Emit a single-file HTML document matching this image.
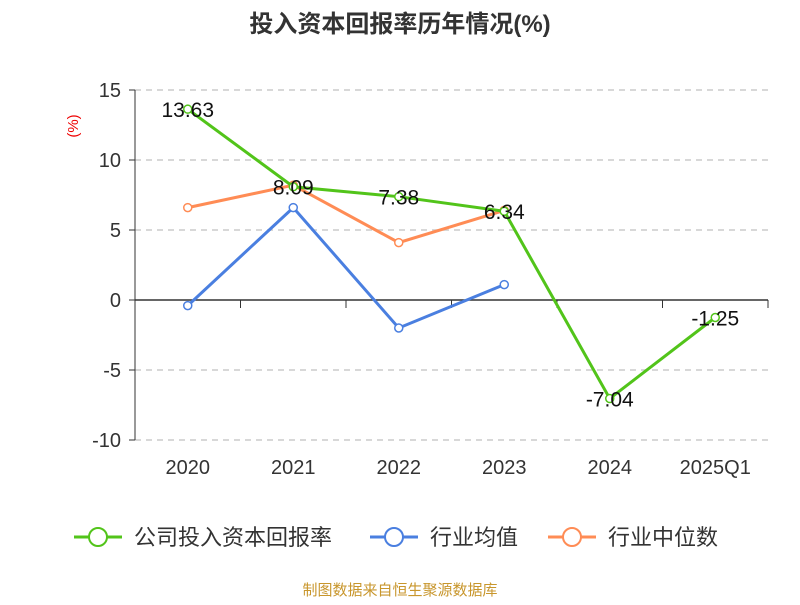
<!DOCTYPE html>
<html><head><meta charset="utf-8"><style>
body{margin:0;background:#fff;}
svg text{font-family:"Liberation Sans","Noto Sans CJK SC",sans-serif;}
</style></head><body>
<svg width="800" height="600" viewBox="0 0 800 600" xmlns="http://www.w3.org/2000/svg">
<text x="400" y="32" text-anchor="middle" font-size="24" font-weight="bold" fill="#333">投入资本回报率历年情况(%)</text>
<text transform="translate(78,126) rotate(-90)" text-anchor="middle" font-size="15" fill="#e00">(%)</text>
<g id="grid"></g><g id="axes"></g><g id="series"></g>
<g>
<g><line x1="74" y1="537" x2="122" y2="537" stroke="#52c41a" stroke-width="3"/><circle cx="98" cy="537" r="9" fill="#fff" stroke="#52c41a" stroke-width="2"/><text x="134" y="545" font-size="22" fill="#333">公司投入资本回报率</text></g>
<g><line x1="370" y1="537" x2="418" y2="537" stroke="#4a7fe0" stroke-width="3"/><circle cx="394" cy="537" r="9" fill="#fff" stroke="#4a7fe0" stroke-width="2"/><text x="430" y="545" font-size="22" fill="#333">行业均值</text></g>
<g><line x1="548" y1="537" x2="596" y2="537" stroke="#ff8c55" stroke-width="3"/><circle cx="572" cy="537" r="9" fill="#fff" stroke="#ff8c55" stroke-width="2"/><text x="608" y="545" font-size="22" fill="#333">行业中位数</text></g>
</g>
<text x="400" y="595" text-anchor="middle" font-size="15" fill="#c8962c">制图数据来自恒生聚源数据库</text>
</svg>
<script>
const categories=["2020","2021","2022","2023","2024","2025Q1"];
const companyValues=[13.63,8.09,7.38,6.34,-7.04,-1.25];
const industryAvg=[-0.4,6.6,-2.0,1.1,null,null];
const industryMedian=[6.6,8.2,4.1,6.4,null,null];
const yTicks=[15,10,5,0,-5,-10];
const NS="http://www.w3.org/2000/svg";
const L=135,R=768,T=90,B=440,yMin=-10,yMax=15;
const band=(R-L)/categories.length;
const xs=i=>L+band*(i+0.5);
const ys=v=>T+(yMax-v)/(yMax-yMin)*(B-T);
function mk(tag,attrs,parent){const e=document.createElementNS(NS,tag);for(const k in attrs)e.setAttribute(k,attrs[k]);parent.appendChild(e);return e;}
const grid=document.getElementById('grid'),axes=document.getElementById('axes'),ser=document.getElementById('series');
yTicks.forEach(t=>{
 if(t!==0){const g=mk('line',{x1:L,x2:R,y1:ys(t),y2:ys(t),stroke:'#ccc','stroke-dasharray':'6,5','stroke-width':1.5},grid);
 
 }
 const tk=mk('line',{x1:L-6,x2:L,y1:ys(t),y2:ys(t),stroke:'#333'},axes);
 
 
 const tx=mk('text',{x:L-14,y:ys(t)+7,'text-anchor':'end','font-size':20,fill:'#333'},axes);
 tx.textContent=t;
 
 
});
const ya=mk('line',{x1:L,x2:L,y1:T,y2:B,stroke:'#333','stroke-width':1},axes);


const xa=mk('line',{x1:L,x2:R,y1:ys(0),y2:ys(0),stroke:'#333','stroke-width':1.5},axes);


for(let i=0;i<=categories.length;i++){const t=mk('line',{x1:L+band*i,x2:L+band*i,y1:ys(0),y2:ys(0)+8,stroke:'#333'},axes);
 
 }
categories.forEach((c,i)=>{const t=mk('text',{x:xs(i),y:474,'text-anchor':'middle','font-size':20,fill:'#333'},axes);t.textContent=c;
 
 });
function series(vals,color,name,labels){
 const pts=[];vals.forEach((v,i)=>{if(v!==null)pts.push([xs(i),ys(v),v]);});
 const p=mk('polyline',{points:pts.map(p=>p[0]+','+p[1]).join(' '),fill:'none',stroke:color,'stroke-width':3},ser);
 
 
 pts.forEach(q=>{const c=mk('circle',{cx:q[0],cy:q[1],r:4,fill:'#fff',stroke:color,'stroke-width':1.5},ser);
  
  
  if(labels){const t=mk('text',{x:q[0],y:q[1]+8,'text-anchor':'middle','font-size':21,fill:'#111'},ser);t.textContent=q[2].toFixed(2);
  
  }});
}
series(industryAvg,'#4a7fe0','industry-avg',false);
series(industryMedian,'#ff8c55','industry-median',false);
series(companyValues,'#52c41a','company-roi',true);
</script>
</body></html>
